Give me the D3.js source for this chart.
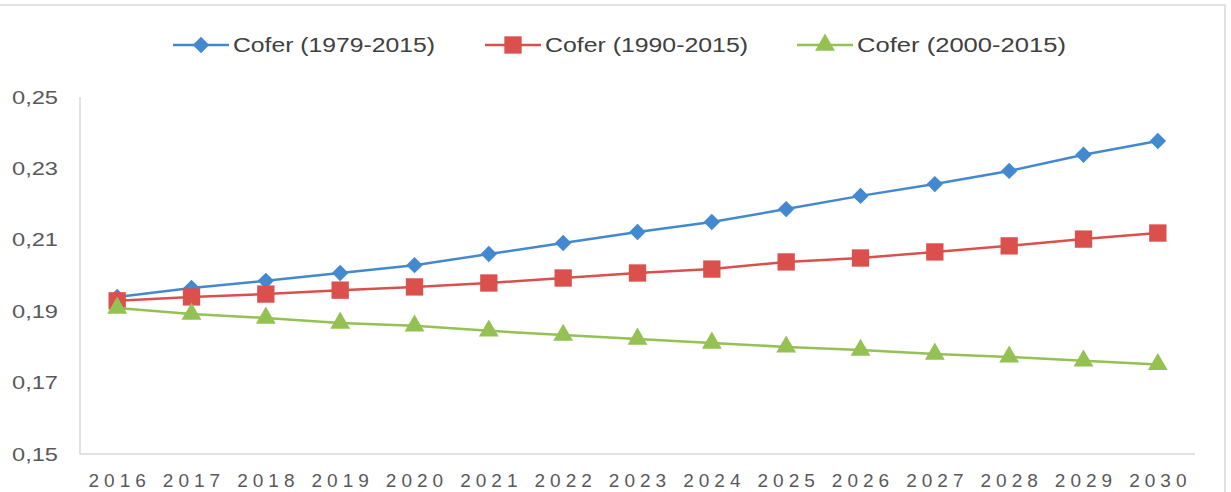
<!DOCTYPE html>
<html><head><meta charset="utf-8">
<script src="https://cdn.jsdelivr.net/npm/d3@7"></script>
<style>body{margin:0;background:#fff}svg{display:block}</style>
</head><body>
<svg id="c" width="1231" height="492"></svg>
<script>
const years = ["2016","2017","2018","2019","2020","2021","2022","2023","2024","2025","2026","2027","2028","2029","2030"];
const cofer1979 = [0.1940,0.1965,0.1985,0.2007,0.2029,0.2060,0.2091,0.2122,0.2150,0.2186,0.2223,0.2256,0.2293,0.2338,0.2377];
const cofer1990 = [0.1929,0.1940,0.1948,0.1959,0.1968,0.1979,0.1993,0.2007,0.2018,0.2038,0.2049,0.2066,0.2083,0.2102,0.2119];
const cofer2000 = [0.1909,0.1892,0.1881,0.1867,0.1859,0.1845,0.1833,0.1822,0.1811,0.1800,0.1791,0.1780,0.1772,0.1761,0.1751];
const seriesNames = ["Cofer (1979-2015)","Cofer (1990-2015)","Cofer (2000-2015)"];
const yTicks = [0.15,0.17,0.19,0.21,0.23,0.25];

(function(){
const series = [
  {name: seriesNames[0], values: cofer1979, color: "#4289cf", shape: "diamond"},
  {name: seriesNames[1], values: cofer1990, color: "#d9504d", shape: "square"},
  {name: seriesNames[2], values: cofer2000, color: "#93c152", shape: "triangle"}
];

const svg = d3.select("#c");
const pL = 80, pR = 1195, pT = 97, pB = 454;
const x = d3.scaleBand().domain(years).range([pL, pR]).padding(0);
const y = d3.scaleLinear().domain([0.15, 0.25]).range([pB, pT]);
const cx = d => x(d) + x.bandwidth()/2;
const textColor = "#595959";
const font = "'Liberation Sans', Arial, sans-serif";

svg.append("rect").attr("x", -2).attr("y", 5).attr("width", 1227).attr("height", 500)
  .attr("fill", "none").attr("stroke", "#d9d9d9").attr("stroke-width", 1.5);

svg.append("line").attr("x1", pL).attr("x2", pL).attr("y1", pT).attr("y2", pB)
  .attr("stroke", "#d9d9d9").attr("stroke-width", 1.5);
svg.append("line").attr("x1", pL).attr("x2", pR).attr("y1", pB).attr("y2", pB)
  .attr("stroke", "#d9d9d9").attr("stroke-width", 1.5);

const fmt = v => d3.format(".2f")(v).replace(".", ",");
svg.append("g").selectAll("text").data(yTicks).join("text")
  .attr("x", 58).attr("y", d => y(d)).attr("dy", "0.35em")
  .attr("text-anchor", "end").attr("fill", textColor)
  .attr("font-family", font).attr("font-size", 19)
  .attr("textLength", 46).attr("lengthAdjust", "spacingAndGlyphs")
  .text(fmt);

svg.append("g").selectAll("text").data(years).join("text")
  .attr("x", d => cx(d) + 2.5).attr("y", 487)
  .attr("text-anchor", "middle").attr("fill", textColor)
  .attr("font-family", font).attr("font-size", 19)
  .attr("letter-spacing", "5px")
  .text(d => d);

const symbolFor = s => s === "diamond" ? d3.symbol().type(d3.symbolSquare).size(135)
  : s === "square" ? d3.symbol().type(d3.symbolSquare).size(300)
  : d3.symbol().type(d3.symbolTriangle).size(170);
const rot = s => s === "diamond" ? " rotate(45)" : "";

const line = d3.line().x((d,i) => cx(years[i])).y(d => y(d));

series.forEach(s => {
  const g = svg.append("g");
  g.append("path").attr("d", line(s.values)).attr("fill", "none")
    .attr("stroke", s.color).attr("stroke-width", 2.5);
  g.selectAll("path.m").data(s.values).join("path").attr("class", "m")
    .attr("transform", (d,i) => `translate(${cx(years[i])},${y(d)})` + rot(s.shape))
    .attr("d", symbolFor(s.shape)()).attr("fill", s.color);
});

const legendX = [173, 485, 797];
const legendW = [202, 203, 209];
series.forEach((s, i) => {
  const g = svg.append("g").attr("transform", `translate(${legendX[i]},45)`);
  g.append("line").attr("x1", 0).attr("x2", 56).attr("y1", 0).attr("y2", 0)
    .attr("stroke", s.color).attr("stroke-width", 2.5);
  g.append("path").attr("transform", "translate(28,0)" + rot(s.shape)).attr("d", symbolFor(s.shape)()).attr("fill", s.color);
  g.append("text").attr("x", 60).attr("y", 0).attr("dy", "0.35em")
    .attr("fill", "#404040").attr("font-family", font).attr("font-size", 20)
    .attr("textLength", legendW[i]).attr("lengthAdjust", "spacingAndGlyphs")
    .text(s.name);
});
})();
</script>
</body></html>
